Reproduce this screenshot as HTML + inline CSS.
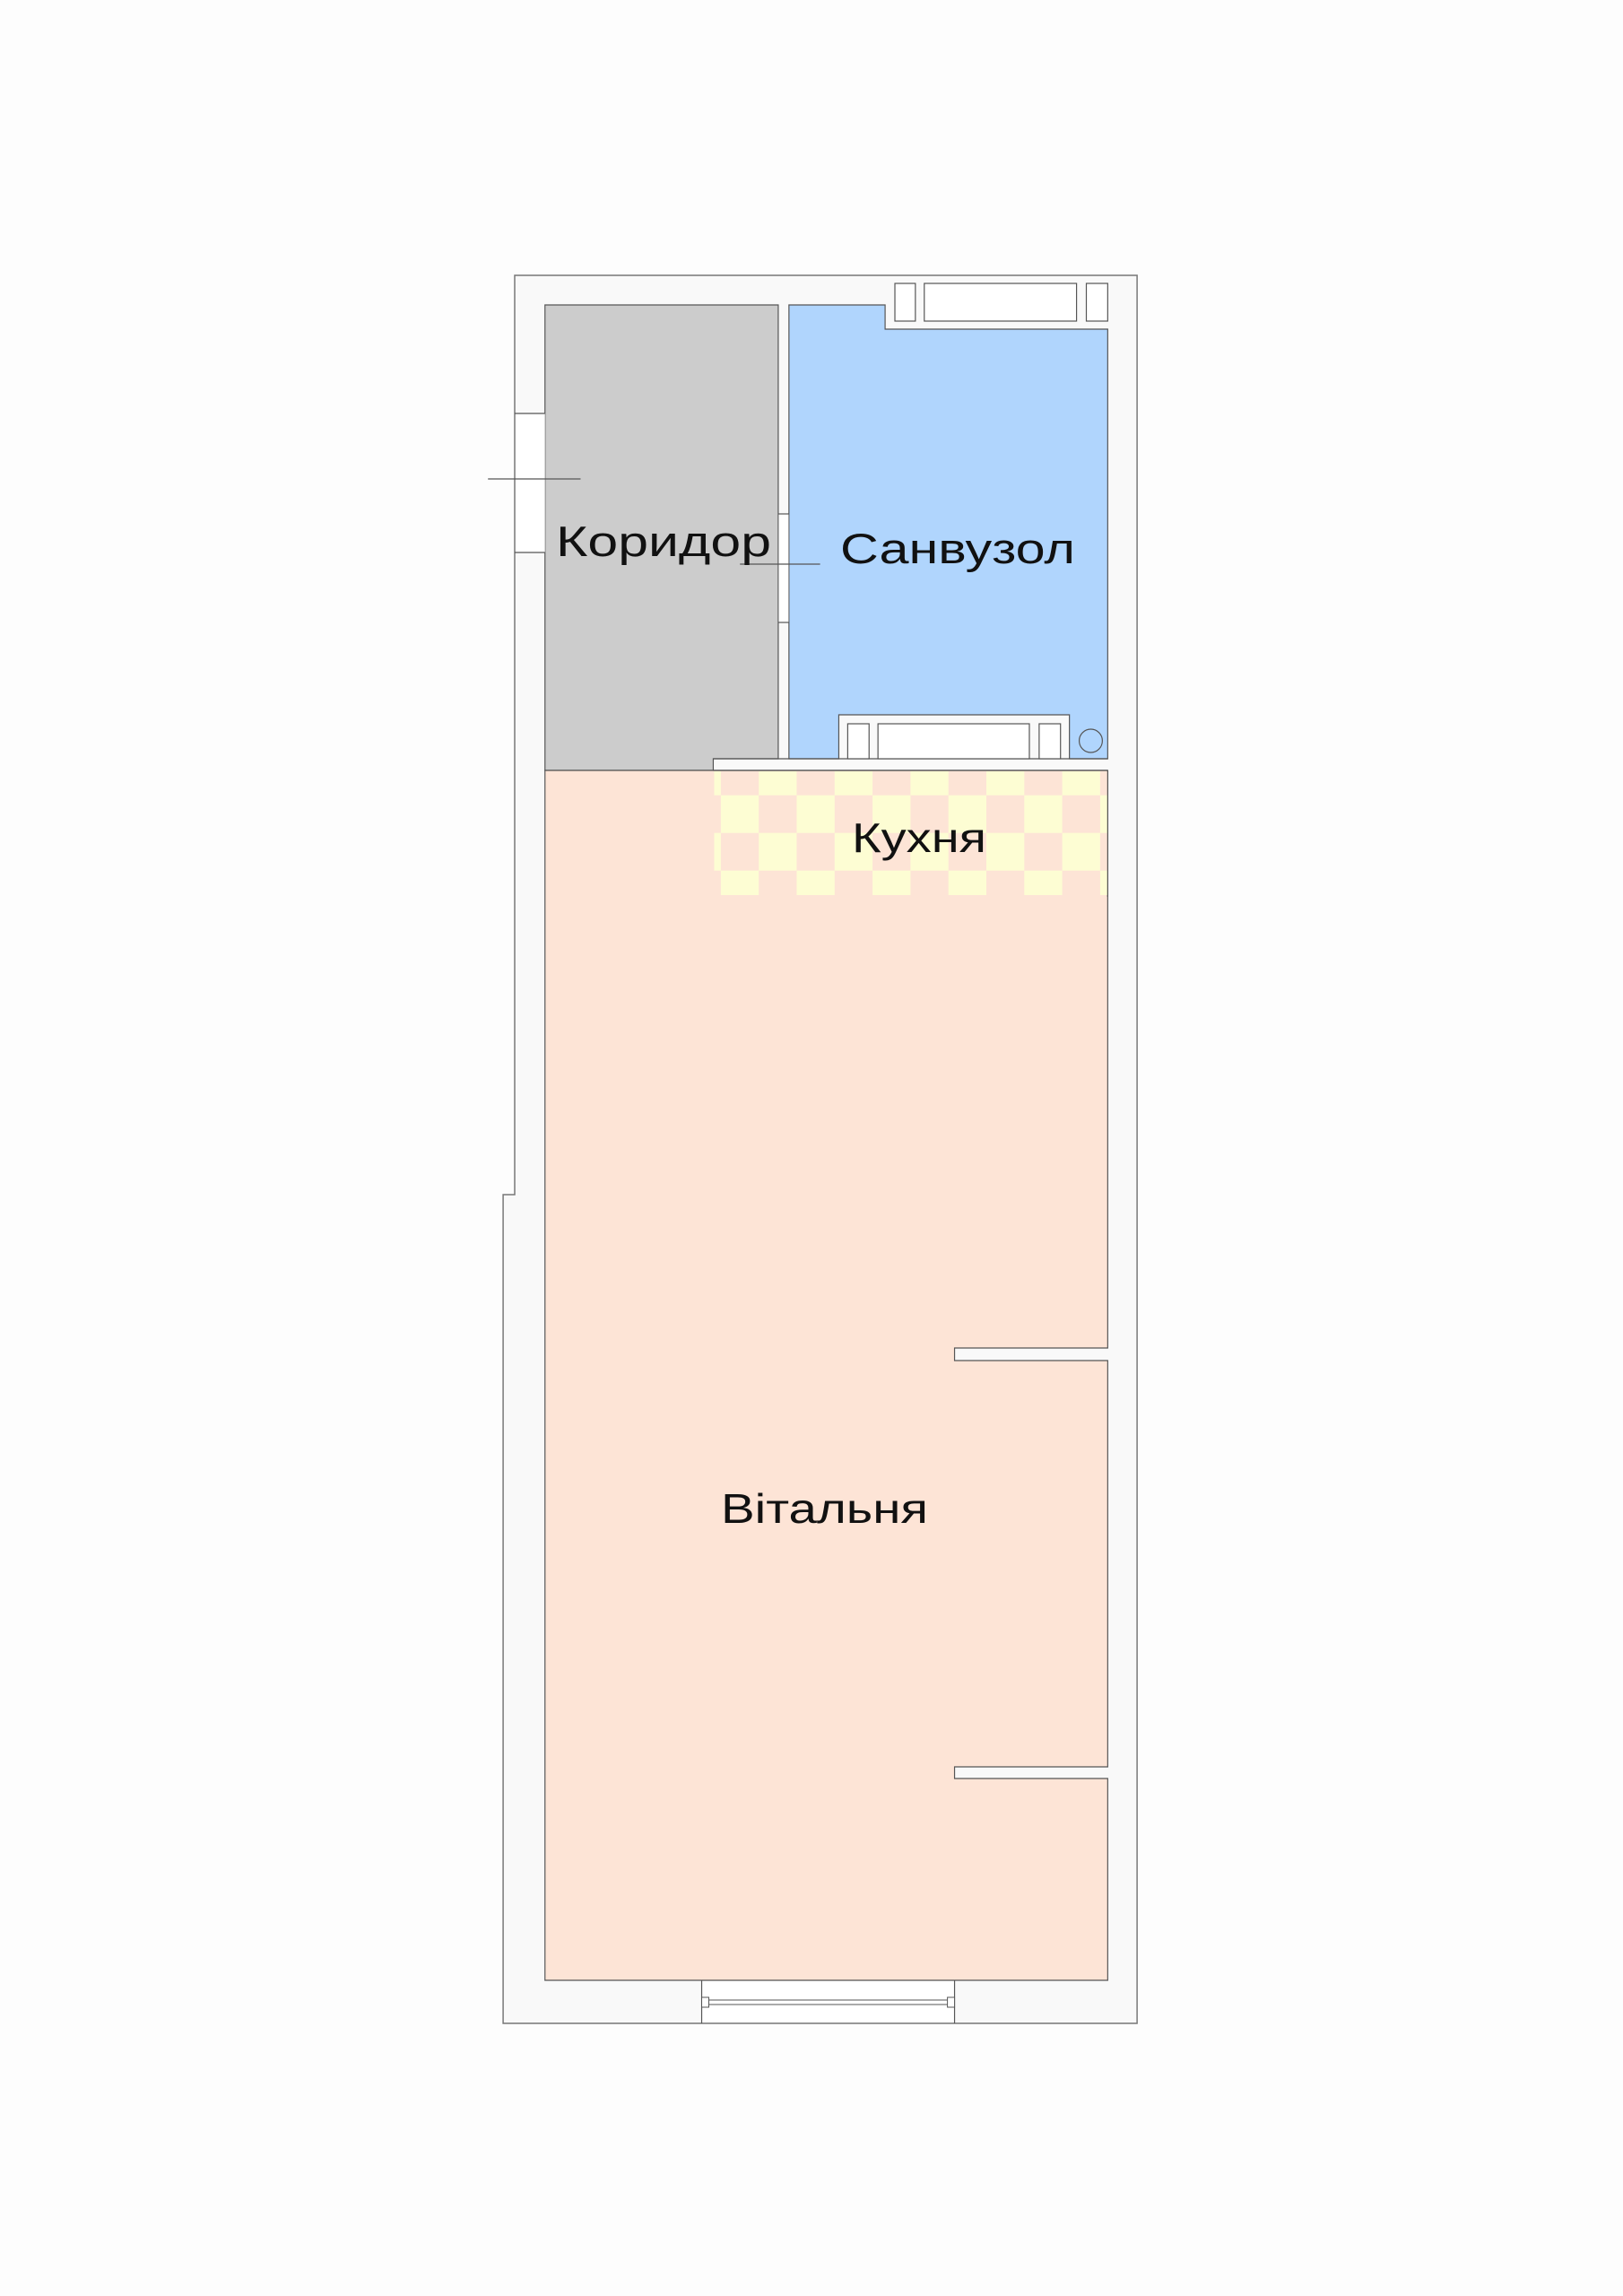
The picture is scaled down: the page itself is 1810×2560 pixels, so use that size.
<!DOCTYPE html>
<html><head><meta charset="utf-8"><style>
html,body{margin:0;padding:0;background:#fdfdfd;}
svg{display:block;}
text{font-family:"Liberation Sans",sans-serif;fill:#111;}
</style></head><body>
<svg width="1810" height="2560" viewBox="0 0 1810 2560" xmlns="http://www.w3.org/2000/svg">
<defs>
<pattern id="chk" x="805.5" y="886.7" width="85.2" height="84" patternUnits="userSpaceOnUse">
<rect width="85.2" height="84" fill="#fde4d6"/>
<rect x="0" y="0" width="42.6" height="42" fill="#fdfdd3"/>
<rect x="42.6" y="42" width="42.6" height="42" fill="#fdfdd3"/>
</pattern>
</defs>
<g transform="translate(574,0) scale(0.993,1) translate(-574,0)">
<path d="M574 307 L1273 307 L1273 2256 L561 2256 L561 1332 L574 1332 Z" fill="#f9f9f9" stroke="#777" stroke-width="1.5"/>
<path d="M608 340 L870 340 L870 846 L797 846 L797 859 L608 859 Z" fill="#cccccc" stroke="#555" stroke-width="1.2"/>
<path d="M882 340 L990 340 L990 367 L1240 367 L1240 846 L1197 846 L1197 797 L938 797 L938 846 L882 846 Z" fill="#b0d5fd" stroke="#555" stroke-width="1.2"/>
<path d="M608 859 L1240 859 L1240 1503 L1068 1503 L1068 1517 L1240 1517 L1240 1970 L1068 1970 L1068 1983 L1240 1983 L1240 2208 L608 2208 Z" fill="#fde4d6" stroke="#555" stroke-width="1.2"/>
<rect x="798" y="860" width="442" height="138" fill="url(#chk)"/>
<line x1="797" y1="859" x2="1240" y2="859" stroke="#555" stroke-width="1.2"/>
<line x1="1240" y1="859" x2="1240" y2="1000" stroke="#555" stroke-width="1.2"/>
<line x1="797" y1="846" x2="1240" y2="846" stroke="#555" stroke-width="1.2"/>
<rect x="1001" y="316" width="23" height="42" fill="#fff" stroke="#555" stroke-width="1.2"/>
<rect x="1034" y="316" width="171" height="42" fill="#fff" stroke="#555" stroke-width="1.2"/>
<rect x="1216" y="316" width="24" height="42" fill="#fff" stroke="#555" stroke-width="1.2"/>
<rect x="948" y="807" width="24" height="39" fill="#fff" stroke="#555" stroke-width="1.2"/>
<rect x="982" y="807" width="170" height="39" fill="#fff" stroke="#555" stroke-width="1.2"/>
<rect x="1163" y="807" width="24" height="39" fill="#fff" stroke="#555" stroke-width="1.2"/>
<ellipse cx="1221" cy="826" rx="13" ry="13" fill="none" stroke="#555" stroke-width="1.2"/>
<rect x="575" y="461" width="33" height="155" fill="#fff"/>
<line x1="574" y1="461" x2="608" y2="461" stroke="#555" stroke-width="1.2"/>
<line x1="574" y1="616" x2="608" y2="616" stroke="#555" stroke-width="1.2"/>
<line x1="544" y1="534" x2="648" y2="534" stroke="#555" stroke-width="1.2"/>
<rect x="870.5" y="573" width="11" height="121" fill="#fff"/>
<line x1="870" y1="573" x2="882" y2="573" stroke="#555" stroke-width="1.2"/>
<line x1="870" y1="694" x2="882" y2="694" stroke="#555" stroke-width="1.2"/>
<line x1="827" y1="629" x2="917" y2="629" stroke="#555" stroke-width="1.2"/>
<rect x="784" y="2209" width="284" height="46" fill="#fff"/>
<line x1="784" y1="2208" x2="784" y2="2256" stroke="#555" stroke-width="1.2"/>
<line x1="1068" y1="2208" x2="1068" y2="2256" stroke="#555" stroke-width="1.2"/>
<rect x="791" y="2230" width="272" height="5" fill="#fff" stroke="#555" stroke-width="1"/>
<rect x="784" y="2227" width="8" height="11" fill="#fff" stroke="#555" stroke-width="1"/>
<rect x="1060" y="2227" width="8" height="11" fill="#fff" stroke="#555" stroke-width="1"/>
</g>
<text x="620" y="620" font-size="47" textLength="240" lengthAdjust="spacingAndGlyphs">Коридор</text>
<text x="937" y="628" font-size="47" textLength="262" lengthAdjust="spacingAndGlyphs">Санвузол</text>
<text x="950" y="950" font-size="46" textLength="150" lengthAdjust="spacingAndGlyphs">Кухня</text>
<text x="804" y="1698" font-size="46" textLength="231" lengthAdjust="spacingAndGlyphs">Вітальня</text>
</svg>
</body></html>
